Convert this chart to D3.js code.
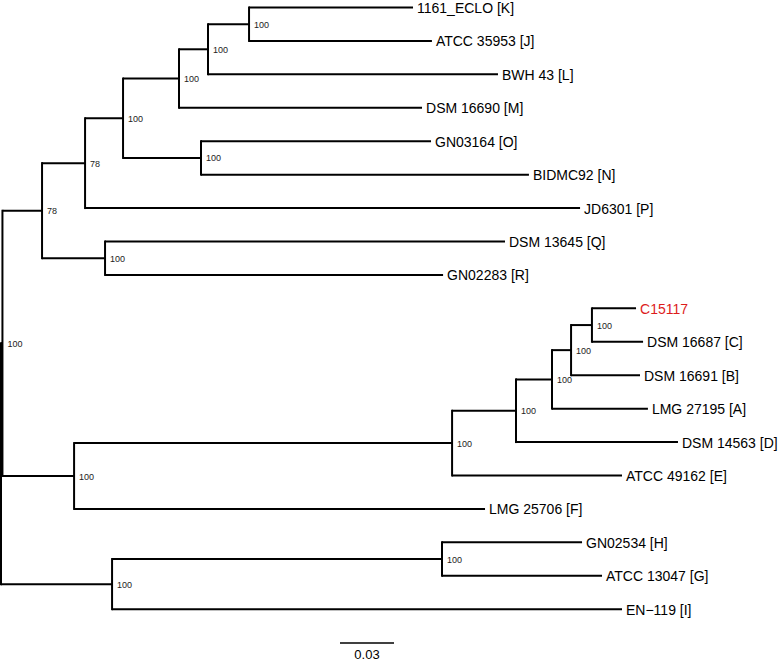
<!DOCTYPE html>
<html>
<head>
<meta charset="utf-8">
<script src="https://cdn.jsdelivr.net/npm/d3@7/dist/d3.min.js"></script>
<style>
  html, body { margin: 0; padding: 0; background: #fff; }
  svg { display: block; }
  text { font-family: "Liberation Sans", Arial, Helvetica, sans-serif; }
</style>
</head>
<body>
<svg id="chart" width="780" height="664"></svg>
<script>
// ---- Data ----
// Tree nodes (order of appearance defines child order)
const nodeIds = [
  "root", "nA", "nTop", "nP", "nKO", "nKM", "nKL", "nKJ", "K", "J", "L", "M",
  "nON", "O", "N", "P", "nQR", "Q", "R",
  "nF", "nE", "nD", "nA2", "nB", "nC", "C15117", "C", "B", "A", "D", "E", "F",
  "nGHI", "nHG", "H", "G", "I"
];
const parentIds = [
  null, "root", "nA", "nTop", "nP", "nKO", "nKM", "nKL", "nKJ", "nKJ", "nKL", "nKM",
  "nKO", "nON", "nON", "nP", "nTop", "nQR", "nQR",
  "nA", "nF", "nE", "nD", "nA2", "nB", "nC", "nC", "nB", "nA2", "nD", "nE", "nF",
  "root", "nGHI", "nHG", "nHG", "nGHI"
];
// Branch lengths (substitutions per site)
const branchLengths = [
  0, 0.0008, 0.022, 0.0239, 0.0211, 0.0311, 0.0161, 0.0228, 0.0911, 0.1016, 0.1611, 0.135,
  0.0433, 0.1278, 0.1822, 0.275, 0.035, 0.2222, 0.1878,
  0.0398, 0.21, 0.0355, 0.02, 0.0106, 0.0116, 0.0245, 0.0284, 0.0383, 0.0533, 0.09, 0.0944, 0.2283,
  0.0617, 0.1833, 0.0778, 0.0889, 0.2833
];
// Bootstrap support for internal nodes
const supportNodes  = ["nA", "nTop", "nP", "nKO", "nKM", "nKL", "nKJ", "nON", "nQR",
                       "nF", "nE", "nD", "nA2", "nB", "nC", "nGHI", "nHG"];
const supportValues = ["100", "78", "78", "100", "100", "100", "100", "100", "100",
                       "100", "100", "100", "100", "100", "100", "100", "100"];
// Tip labels
const tipIds    = ["K", "J", "L", "M", "O", "N", "P", "Q", "R",
                   "C15117", "C", "B", "A", "D", "E", "F", "H", "G", "I"];
const tipLabels = ["1161_ECLO [K]", "ATCC 35953 [J]", "BWH 43 [L]", "DSM 16690 [M]",
                   "GN03164 [O]", "BIDMC92 [N]", "JD6301 [P]", "DSM 13645 [Q]", "GN02283 [R]",
                   "C15117", "DSM 16687 [C]", "DSM 16691 [B]", "LMG 27195 [A]", "DSM 14563 [D]",
                   "ATCC 49162 [E]", "LMG 25706 [F]", "GN02534 [H]", "ATCC 13047 [G]", "EN\u2212119 [I]"];
const highlightTips = ["C15117"];
const scaleBarValue = 0.03;
const scaleBarLabel = "0.03";

// ---- Build hierarchy ----
const table = nodeIds.map((id, i) => ({ id, parent: parentIds[i], len: branchLengths[i] }));
const root = d3.stratify().id(d => d.id).parentId(d => d.parent)(table);

root.eachBefore(n => { n.dist = (n.parent ? n.parent.dist : 0) + n.data.len; });

const leaves = root.leaves();
const x = d3.scaleLinear().domain([0, 0.4]).range([1, 721]);
const y = d3.scalePoint().domain(leaves.map(d => d.id)).range([7.5, 609.2]);

root.eachAfter(n => {
  if (!n.children) n.py = y(n.id);
  else n.py = (n.children[0].py + n.children[n.children.length - 1].py) / 2;
  n.px = x(n.dist);
});

const svg = d3.select("#chart");
const g = svg.append("g");

// Horizontal branches
g.selectAll("line.h").data(root.descendants().filter(d => d.parent))
  .join("line")
  .attr("x1", d => d.parent.px).attr("x2", d => d.px)
  .attr("y1", d => d.py).attr("y2", d => d.py)
  .attr("stroke", "#000").attr("stroke-width", 2);

// Vertical connectors
g.selectAll("line.v").data(root.descendants().filter(d => d.children))
  .join("line")
  .attr("x1", d => d.px).attr("x2", d => d.px)
  .attr("y1", d => d.children[0].py - 1)
  .attr("y2", d => d.children[d.children.length - 1].py + 1)
  .attr("stroke", "#000").attr("stroke-width", 2);

// Support labels
const supMap = new Map(supportNodes.map((id, i) => [id, supportValues[i]]));
g.selectAll("text.sup").data(root.descendants().filter(d => supMap.has(d.id)))
  .join("text")
  .attr("x", d => d.px + 5).attr("y", d => d.py + 3.5)
  .attr("font-size", 9).attr("fill", "#222")
  .text(d => supMap.get(d.id));

// Tip labels
const tipMap = new Map(tipIds.map((id, i) => [id, tipLabels[i]]));
g.selectAll("text.tip").data(leaves)
  .join("text")
  .attr("x", d => d.px + 4).attr("y", d => d.py + 5.5)
  .attr("font-size", 14)
  .attr("fill", d => highlightTips.includes(d.id) ? "#dd1c1c" : "#000")
  .text(d => tipMap.get(d.id));

// Scale bar
const sbX0 = 340, sbY = 643;
const sbLen = x(scaleBarValue) - x(0);
g.append("line")
  .attr("x1", sbX0).attr("x2", sbX0 + sbLen)
  .attr("y1", sbY).attr("y2", sbY)
  .attr("stroke", "#000").attr("stroke-width", 1.5);
g.append("text")
  .attr("x", sbX0 + sbLen / 2).attr("y", 659)
  .attr("text-anchor", "middle").attr("font-size", 13)
  .text(scaleBarLabel);
</script>
</body>
</html>
